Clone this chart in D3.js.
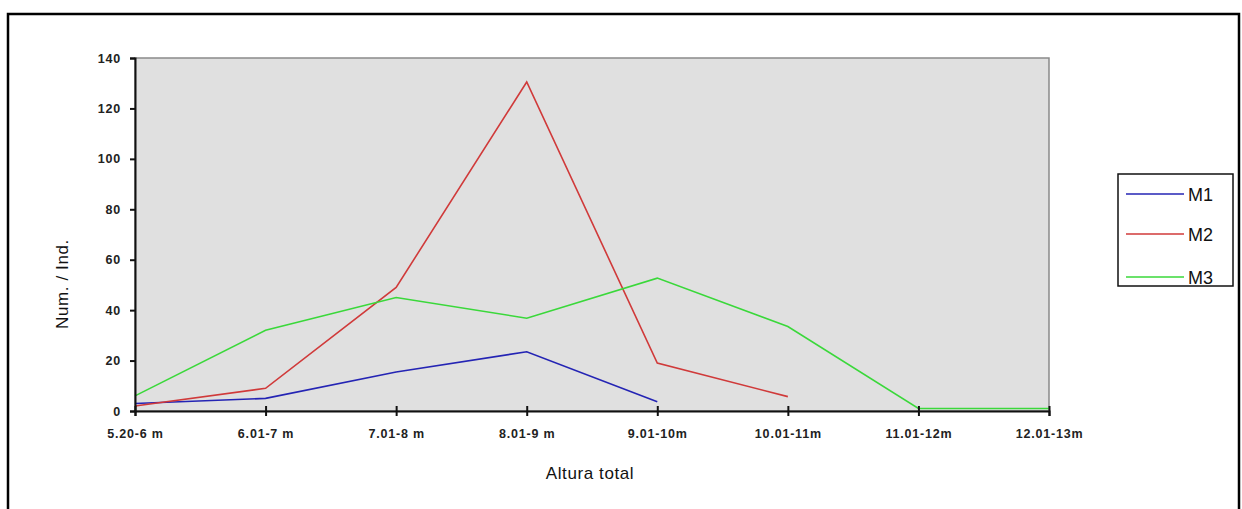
<!DOCTYPE html>
<html>
<head>
<meta charset="utf-8">
<script src="https://cdn.jsdelivr.net/npm/d3@7/dist/d3.min.js"></script>
<style>
  html, body { margin: 0; padding: 0; background: #fff; }
  svg { display: block; }
  .tick text { font-family: "Liberation Sans", Arial, sans-serif; font-size: 12.5px; font-weight: bold; fill: #222; letter-spacing: 0.8px; }
</style>
</head>
<body>
<svg id="chart" width="1242" height="509"></svg>
<script>
// Height classes (total height)
const categories = ["5.20-6 m", "6.01-7 m", "7.01-8 m", "8.01-9 m", "9.01-10m", "10.01-11m", "11.01-12m", "12.01-13m"];
// Number of individuals per height class
const m1 = [3, 5, 15.5, 23.5, 3.7];
const m2 = [2, 9, 49, 130.5, 19, 5.7];
const m3 = [6, 32, 45, 36.8, 52.7, 33.5, 1, 1];
const yTicks = [0, 20, 40, 60, 80, 100, 120, 140];

const seriesNames = ["M1", "M2", "M3"];
const seriesValues = [m1, m2, m3];
const seriesColors = ["#2424b4", "#d03a3a", "#3ad83a"];

const svg = d3.select("#chart");
const plot = { left: 135, top: 58, right: 1049, bottom: 411 };

// outer frame
svg.append("rect")
  .attr("x", 8).attr("y", 14).attr("width", 1231).attr("height", 505)
  .attr("fill", "none").attr("stroke", "#000").attr("stroke-width", 2.5);

const x = d3.scalePoint().domain(categories).range([plot.left, plot.right]);
const y = d3.scaleLinear().domain([0, 140]).range([plot.bottom, plot.top]);

// plot background
svg.append("rect")
  .attr("x", plot.left).attr("y", plot.top)
  .attr("width", plot.right - plot.left).attr("height", plot.bottom - plot.top)
  .attr("fill", "#e0e0e0").attr("stroke", "#8a8a8a").attr("stroke-width", 1.5);

// series lines
const line = d3.line().x((d, i) => x(categories[i])).y(d => y(d));
seriesValues.forEach((vals, k) => {
  svg.append("path")
    .datum(vals)
    .attr("d", line)
    .attr("fill", "none")
    .attr("stroke", seriesColors[k])
    .attr("stroke-width", 1.6);
});

// y axis
const yAxis = svg.append("g")
  .attr("transform", `translate(${plot.left},0)`)
  .call(d3.axisLeft(y).tickValues(yTicks).tickSize(5).tickPadding(9).tickFormat(d3.format("d")));
yAxis.select(".domain").attr("stroke", "#111").attr("stroke-width", 2);
yAxis.selectAll(".tick line").attr("stroke", "#111").attr("stroke-width", 2);

// x axis
const xAxis = svg.append("g")
  .attr("transform", `translate(0,${plot.bottom})`)
  .call(d3.axisBottom(x).tickSize(5).tickPadding(13));
xAxis.select(".domain").attr("stroke", "#111").attr("stroke-width", 2);
xAxis.selectAll(".tick line").attr("stroke", "#111").attr("stroke-width", 2).attr("y1", -5);

// axis titles
svg.append("text")
  .attr("x", 590).attr("y", 479)
  .attr("text-anchor", "middle")
  .attr("font-family", "Liberation Sans, Arial, sans-serif")
  .attr("font-size", 17).attr("letter-spacing", 0.6).attr("fill", "#111")
  .text("Altura total");

svg.append("text")
  .attr("transform", "translate(68,284) rotate(-90)")
  .attr("text-anchor", "middle")
  .attr("font-family", "Liberation Sans, Arial, sans-serif")
  .attr("font-size", 17).attr("letter-spacing", 0.6).attr("fill", "#111")
  .text("Num. / Ind.");

// legend
const legend = svg.append("g");
legend.append("rect")
  .attr("x", 1118).attr("y", 174).attr("width", 115).attr("height", 112)
  .attr("fill", "#fff").attr("stroke", "#111").attr("stroke-width", 1.5);
const legendY = [194, 234, 277];
seriesNames.forEach((name, k) => {
  legend.append("line")
    .attr("x1", 1126).attr("x2", 1184)
    .attr("y1", legendY[k]).attr("y2", legendY[k])
    .attr("stroke", seriesColors[k]).attr("stroke-width", 1.6);
  legend.append("text")
    .attr("x", 1188).attr("y", legendY[k] + 7)
    .attr("font-family", "Liberation Sans, Arial, sans-serif")
    .attr("font-size", 18).attr("fill", "#111")
    .text(name);
});
</script>
</body>
</html>
